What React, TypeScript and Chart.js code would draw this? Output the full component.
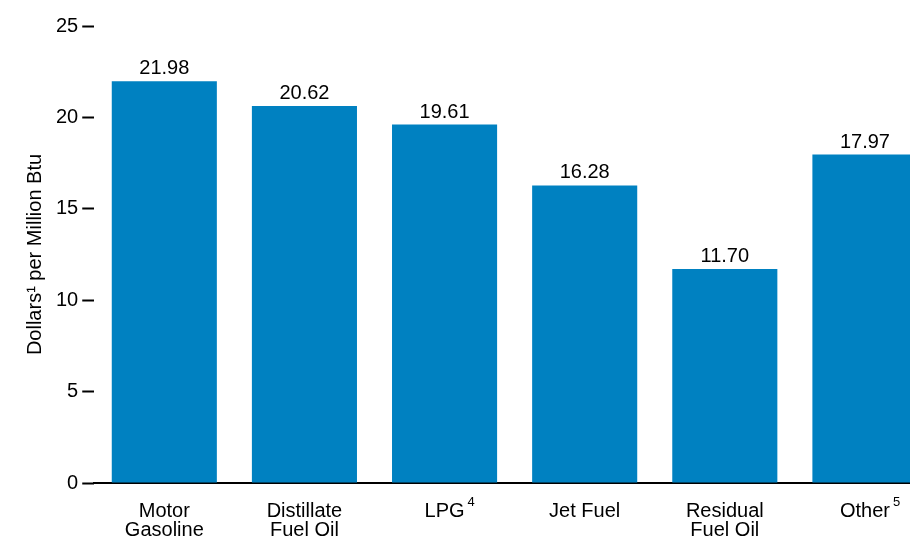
import React, { useEffect, useRef } from "react";
import { Chart, registerables } from "chart.js";

Chart.register(...registerables);

const categories: (string | string[])[] = [
  ["Motor", "Gasoline"],
  ["Distillate", "Fuel Oil"],
  "LPG",
  "Jet Fuel",
  ["Residual", "Fuel Oil"],
  "Other",
];
const categoryNotes = ["", "", "4", "", "", "5"];
const prices = [21.98, 20.62, 19.61, 16.28, 11.7, 17.97];
const yTicks = [0, 5, 10, 15, 20, 25];
const yTitle = "Dollars\u00b9 per Million Btu";

const FONT = "'Liberation Sans', Arial, Helvetica, sans-serif";

const valueLabels = {
  id: "valueLabels",
  afterDatasetsDraw(chart: any) {
    const ctx = chart.ctx;
    const meta = chart.getDatasetMeta(0);
    ctx.save();
    ctx.font = `20px ${FONT}`;
    ctx.fillStyle = "#000";
    ctx.textAlign = "center";
    ctx.textBaseline = "alphabetic";
    meta.data.forEach((bar: any, i: number) => {
      ctx.fillText(prices[i].toFixed(2), bar.x, bar.y - 7);
    });
    ctx.restore();
  },
};

const noteMarks = {
  id: "noteMarks",
  afterDraw(chart: any) {
    const ctx = chart.ctx;
    const xs = chart.scales.x;
    ctx.save();
    categoryNotes.forEach((note, i) => {
      if (!note) return;
      const label = categories[i];
      const text = Array.isArray(label) ? label[0] : label;
      ctx.font = `20px ${FONT}`;
      const w = ctx.measureText(text).width;
      const cx = xs.getPixelForTick(i);
      ctx.font = `13px ${FONT}`;
      ctx.fillStyle = "#000";
      ctx.textAlign = "left";
      ctx.textBaseline = "alphabetic";
      ctx.fillText(note, cx + w / 2 + 3, xs.top + 23);
    });
    ctx.restore();
  },
};

export default function App() {
  const ref = useRef<HTMLCanvasElement>(null);
  useEffect(() => {
    if (!ref.current) return;
    const chart = new Chart(ref.current, {
      type: "bar",
      data: {
        labels: categories as any,
        datasets: [
          {
            data: prices,
            backgroundColor: "#0081C1",
            barPercentage: 0.75,
            categoryPercentage: 1,
          },
        ],
      },
      plugins: [valueLabels, noteMarks],
      options: {
        responsive: false,
        animation: false,
        devicePixelRatio: 1,
        layout: { padding: { left: 19, right: 5, top: 26, bottom: 0 } },
        plugins: { legend: { display: false }, tooltip: { enabled: false } },
        scales: {
          x: {
            grid: { display: false, drawTicks: false },
            border: { display: true, color: "#000", width: 2 },
            afterFit: (scale: any) => {
              scale.height = 55;
            },
            ticks: {
              color: "#000",
              font: { family: FONT, size: 20, lineHeight: 0.95 },
              padding: 19,
              maxRotation: 0,
              autoSkip: false,
            },
          },
          y: {
            min: 0,
            max: 25,
            afterBuildTicks: (scale: any) => {
              scale.ticks = yTicks.map((v) => ({ value: v }));
            },
            grid: {
              drawOnChartArea: false,
              drawTicks: true,
              tickLength: 12,
              tickColor: "#000",
              tickWidth: 2,
              color: "#000",
            },
            border: { display: false },
            ticks: {
              color: "#000",
              font: { family: FONT, size: 20 },
              padding: 4,
            },
            title: {
              display: true,
              text: yTitle,
              color: "#000",
              font: { family: FONT, size: 20 },
              padding: { top: 4, bottom: 5 },
            },
          },
        },
      },
    });
    return () => chart.destroy();
  }, []);
  return (
    <div
      style={{
        position: "fixed",
        left: 0,
        top: 0,
        width: 910,
        height: 538,
        overflow: "hidden",
        background: "#fff",
      }}
    >
      <canvas ref={ref} width={940} height={538} style={{ display: "block" }} />
    </div>
  );
}
